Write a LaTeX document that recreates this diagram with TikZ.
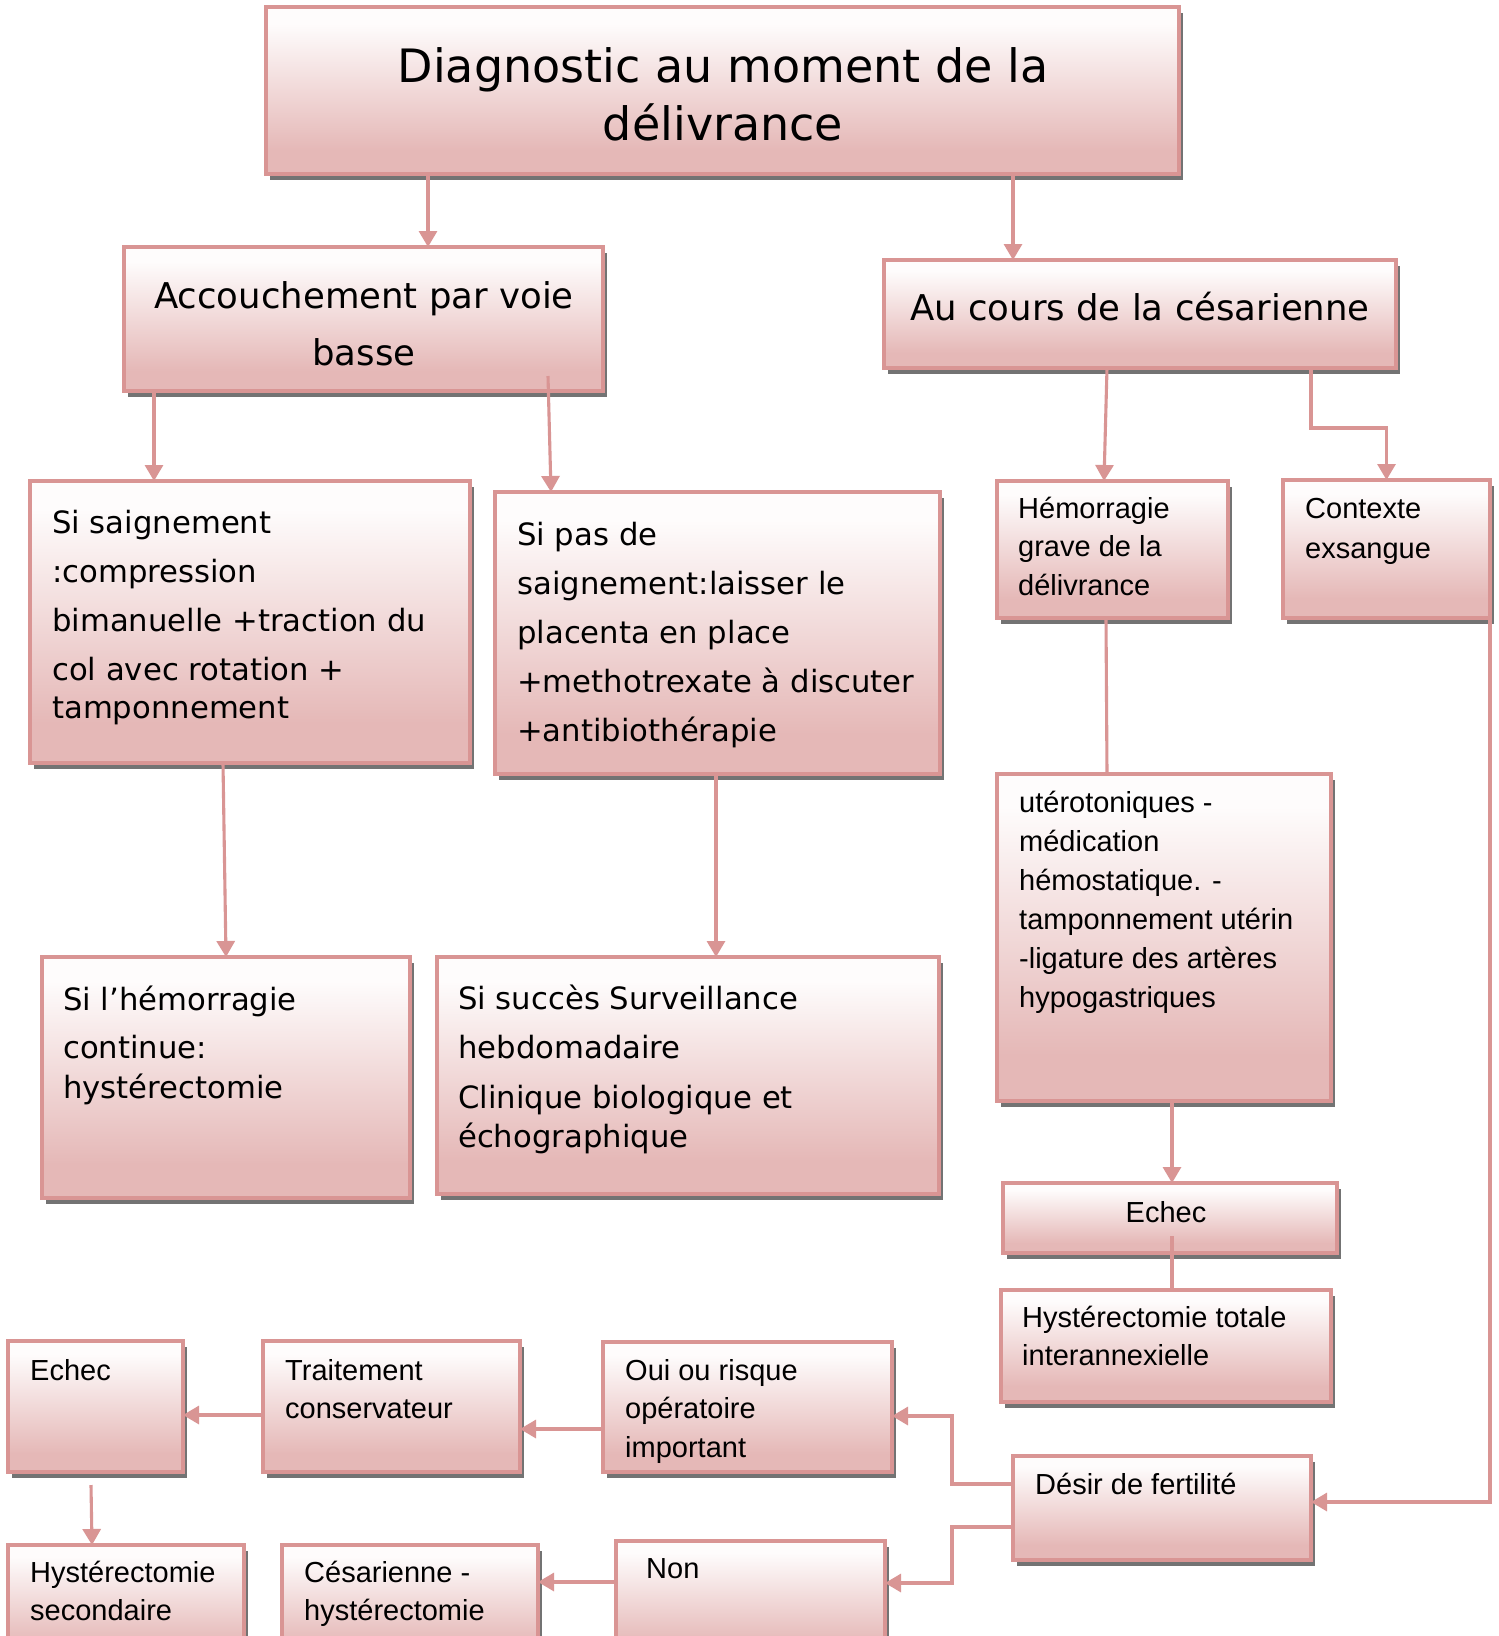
\documentclass[tikz,border=0pt]{standalone}
\usepackage{fontspec}
\newfontfamily\lucida{DejaVu Sans}
\newfontfamily\arialf{Liberation Sans}
\usetikzlibrary{arrows.meta,shadows}

\definecolor{bordc}{RGB}{217,149,148}
\definecolor{fadetop}{RGB}{254,252,252}
\definecolor{fadebot}{RGB}{229,184,183}
\definecolor{shadc}{RGB}{115,115,115}

% vertical fill of the boxes: pink at the bottom, almost white at the top
\pgfdeclareverticalshading{boxfade}{100bp}{color(0bp)=(fadebot); color(32bp)=(fadebot); color(70bp)=(fadetop); color(100bp)=(fadetop)}

% lines of text with a fixed baseline distance; the baseline of the whole is the first line
\newcommand\txtstack[2]{\vtop{\baselineskip=#1pt\lineskiplimit=-\maxdimen\lineskip=0pt\relax #2}}
\newcommand\mkc[1]{\hbox to 0pt{\hss#1\hss}}
% box from its top left (#2,#3) to its bottom right (#4,#5)
\newcommand\bx[5]{\node[box, anchor=north west, minimum width={#4pt-#2pt}, minimum height={#5pt-#3pt}] (#1) at (#2,#3) {};}

\tikzset{
  box/.style={draw=bordc, line width=3.1pt, shading=boxfade, rectangle, inner sep=0pt, outer sep=0pt,
    drop shadow={shadow xshift=4pt, shadow yshift=-6pt, fill=shadc, opacity=1}},
  bigtxt/.style={inner sep=0pt, anchor=base, font=\lucida\fontsize{46}{58}\selectfont},
  midtxt/.style={inner sep=0pt, anchor=base, font=\lucida\fontsize{35.5}{57}\selectfont},
  bodytxt/.style={inner sep=0pt, anchor=base west, font=\lucida\fontsize{30.7}{49}\selectfont},
  smalltxt/.style={inner sep=0pt, anchor=base west, font=\arialf\fontsize{29}{38.5}\selectfont},
  conn/.style={draw=bordc, line width=3.1pt},
  arr/.style={conn, -{Triangle[length=16pt,width=18pt]}},
}

\begin{document}
\begin{tikzpicture}[x=1pt,y=-1pt]
\useasboundingbox[fill=white] (0,0) rectangle (1499,1636);
\clip (0,0) rectangle (1499,1636);

% boxes
\bx{title}{266}{7}{1179}{174}
\bx{acc}{124}{247}{603}{391}
\bx{ces}{884}{260}{1396}{368}
\bx{sais}{30}{481}{470}{763}
\bx{pas}{495}{492}{940}{774}
\bx{hem}{997}{481}{1228}{618}
\bx{ctx}{1283}{480}{1490}{618}
\bx{uter}{997}{774}{1331}{1101}
\bx{hemo}{42}{957}{410}{1198}
\bx{succ}{437}{957}{939}{1194}
\bx{echecR}{1003}{1183}{1337}{1253}
\bx{hystT}{1001}{1290}{1331}{1402}
\bx{desir}{1013}{1456}{1311}{1560}
\bx{oui}{603}{1342}{892}{1472}
\bx{trait}{263}{1341}{520}{1472}
\bx{echecL}{8}{1341}{183}{1472}
\bx{hystS}{8}{1545}{244}{1660}
\bx{cesH}{282}{1545}{538}{1660}
\bx{non}{616}{1541}{885}{1660}

% texts
\node[bigtxt] (t-title) at (723,82) {\txtstack{58}{\mkc{Diagnostic au moment de la}\mkc{délivrance}}};
\node[midtxt] (t-acc) at (364,308) {\txtstack{57}{\mkc{Accouchement par voie}\mkc{basse}}};
\node[midtxt] (t-ces) at (1140,320) {Au cours de la césarienne};

\node[bodytxt] (t-sais) at (52,533) {\txtstack{49}{\hbox{Si saignement}\hbox{:compression}\hbox{bimanuelle +traction du}\hbox{col avec rotation +}\vskip-11pt\hbox{tamponnement}}};
\node[bodytxt] (t-pas) at (517,545) {\txtstack{49.2}{\hbox{Si pas de}\hbox{saignement:laisser le}\hbox{placenta en place}\hbox{+methotrexate à discuter}\hbox{+antibiothérapie}}};
\node[bodytxt] (t-hemo) at (63,1010) {\txtstack{48}{\hbox{Si l’hémorragie}\hbox{continue:}\vskip-8pt\hbox{hystérectomie}}};
\node[bodytxt] (t-succ) at (458,1009) {\txtstack{49.5}{\hbox{Si succès Surveillance}\hbox{hebdomadaire}\hbox{Clinique biologique et}\vskip-10.5pt\hbox{échographique}}};

\node[smalltxt] (t-hem) at (1018,518) {\txtstack{38.5}{\hbox{Hémorragie}\hbox{grave de la}\hbox{délivrance}}};
\node[smalltxt] (t-ctx) at (1305,518) {\txtstack{40}{\hbox{Contexte}\hbox{exsangue}}};
\node[smalltxt] (t-uter) at (1019,812) {\txtstack{39}{\hbox{utérotoniques -}\hbox{médication}\hbox{hémostatique. -}\hbox{tamponnement utérin}\hbox{-ligature des artères}\hbox{hypogastriques}}};
\node[smalltxt, anchor=base] (t-echecR) at (1166,1222) {Echec};
\node[smalltxt] (t-hystT) at (1022,1327) {\txtstack{38}{\hbox{Hystérectomie totale}\hbox{interannexielle}}};
\node[smalltxt] (t-desir) at (1035,1494) {Désir de fertilité};
\node[smalltxt] (t-oui) at (625,1380) {\txtstack{38.5}{\hbox{Oui ou risque}\hbox{opératoire}\hbox{important}}};
\node[smalltxt] (t-trait) at (285,1380) {\txtstack{38}{\hbox{Traitement}\hbox{conservateur}}};
\node[smalltxt] (t-echecL) at (30,1380) {Echec};
\node[smalltxt] (t-non) at (646,1578) {Non};
\node[smalltxt] (t-hystS) at (30,1582) {\txtstack{38}{\hbox{Hystérectomie}\hbox{secondaire}}};
\node[smalltxt] (t-cesH) at (304,1582) {\txtstack{38}{\hbox{Césarienne -}\hbox{hystérectomie}}};

% connectors
\draw[arr] ([xshift=162pt]title.south west) -- ([xshift=304pt]acc.north west);
\draw[arr] ([xshift=747pt]title.south west) -- ([xshift=129pt]ces.north west);
\draw[arr] ([xshift=30pt]acc.south west) -- ([xshift=124pt]sais.north west);
\draw[arr] ([xshift=-55pt,yshift=15pt]acc.south east) -- ([xshift=56pt]pas.north west);
\draw[arr] ([xshift=223pt]ces.south west) -- ([xshift=107pt]hem.north west);
\draw[arr] ([xshift=-85pt]ces.south east) -- ++(0,60) -| (ctx.north);
\draw[conn] ([xshift=109pt]hem.south west) -- ([xshift=110pt]uter.north west);
\draw[arr] (ctx.south east) |- ([yshift=6pt]desir.east);
\draw[arr] ([xshift=175pt]uter.south west) -- ([xshift=169pt]echecR.north west);
\draw[conn] ([xshift=169pt,yshift=-53pt]echecR.north west) -- ([xshift=171pt]hystT.north west);
\draw[arr] ([xshift=193pt]sais.south west) -- ([xshift=184pt]hemo.north west);
\draw[arr] ([xshift=221pt]pas.south west) -- ([xshift=279pt]succ.north west);
\draw[arr] ([yshift=24pt]desir.west) -- ++(-61,0) |- ([yshift=-9pt]oui.east);
\draw[arr] ([yshift=-19pt]desir.west) -- ++(-61,0) |- ([yshift=17.5pt]non.east);
\draw[arr] ([yshift=-22pt]oui.west) -- ([yshift=-22.5pt]trait.east);
\draw[arr] ([yshift=-8.5pt]trait.west) -- ([yshift=-8.5pt]echecL.east);
\draw[arr] ([xshift=-4.5pt,yshift=-13pt]echecL.south) -- ([xshift=84pt]hystS.north west);
\draw[arr] ([yshift=18.5pt]non.west) -- ([yshift=20.5pt]cesH.east);
\end{tikzpicture}
\end{document}
